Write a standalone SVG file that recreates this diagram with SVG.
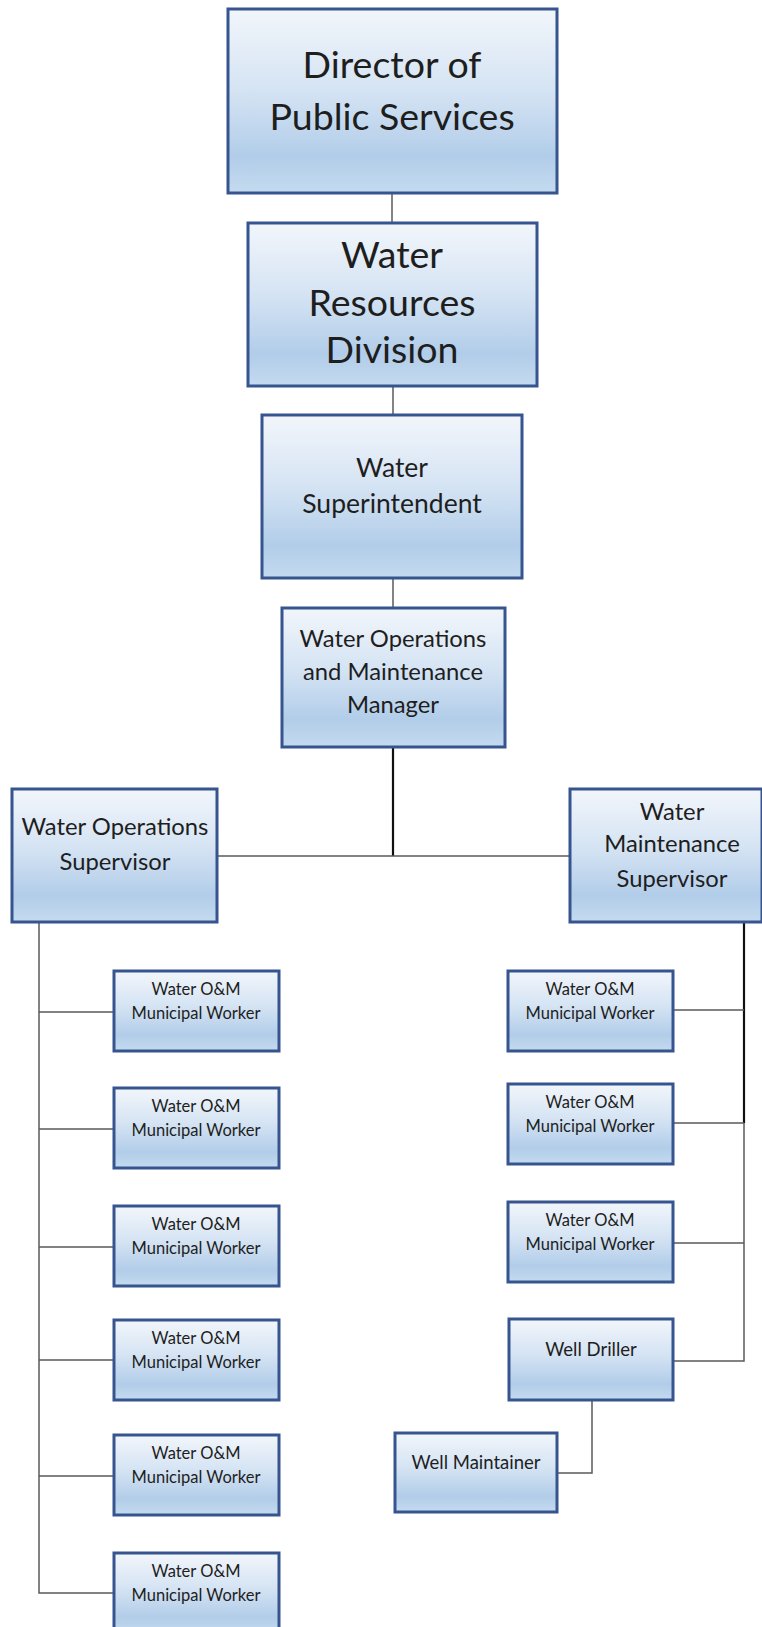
<svg xmlns="http://www.w3.org/2000/svg" width="762" height="1627" viewBox="0 0 762 1627">
<defs>
<linearGradient id="g" x1="0" y1="0" x2="0" y2="1">
<stop offset="0" stop-color="#f2f6fb"/>
<stop offset="0.45" stop-color="#d4e3f3"/>
<stop offset="0.8" stop-color="#b2cde9"/>
<stop offset="1" stop-color="#c4daef"/>
</linearGradient>
</defs>
<style>
.box{fill:url(#g);stroke:#36558f;stroke-width:3}
.t{font-family:Lato,"Liberation Sans",sans-serif;fill:#1e1e1e;text-anchor:middle}
.xl{font-size:37.5px}
.l{font-size:26.5px}
.m{font-size:23.8px}
.s{font-size:16.5px}
.w{font-size:18.5px}
.c{fill:none;stroke:#5a5a5a;stroke-width:1.5}
.k{fill:none;stroke:#111;stroke-width:2.2}
</style>
<g id="connectors">
<path class="c" d="M392 193V223"/>
<path class="c" d="M393 386V415"/>
<path class="c" d="M393 578V608"/>
<path class="k" d="M393 747V856"/>
<path class="c" d="M217 856H570"/>
<path class="c" d="M39 922V1593H114"/>
<path class="c" d="M39 1012H114M39 1129H114M39 1247H114M39 1360H114M39 1476H114"/>
<path class="k" d="M744 922V1123"/>
<path class="c" d="M744 1123V1361H673"/>
<path class="c" d="M673 1010H744M673 1123H744M673 1243H744"/>
<path class="c" d="M592 1400V1473H557"/>
</g>
<g id="director"><rect class="box" x="228" y="9" width="329" height="184"/><text class="t xl" x="392" y="78">Director of</text><text class="t xl" x="392" y="130">Public Services</text></g>
<g id="wrd"><rect class="box" x="248" y="223" width="289" height="163"/><text class="t xl" x="392" y="268">Water</text><text class="t xl" x="392" y="316">Resources</text><text class="t xl" x="392" y="363">Division</text></g>
<g id="supt"><rect class="box" x="262" y="415" width="260" height="163"/><text class="t l" x="392" y="477">Water</text><text class="t l" x="392" y="513">Superintendent</text></g>
<g id="manager"><rect class="box" x="282" y="608" width="223" height="139"/><text class="t m" x="393" y="647">Water Operations</text><text class="t m" x="393" y="680">and Maintenance</text><text class="t m" x="393" y="713">Manager</text></g>
<g id="ops-sup"><rect class="box" x="12" y="789" width="205" height="133"/><text class="t m" x="115" y="835">Water Operations</text><text class="t m" x="115" y="870">Supervisor</text></g>
<g id="maint-sup"><rect class="box" x="570" y="789" width="192" height="133"/><text class="t m" x="672" y="820">Water</text><text class="t m" x="672" y="852">Maintenance</text><text class="t m" x="672" y="887">Supervisor</text></g>
<g id="lw1"><rect class="box" x="114" y="971" width="165" height="80"/><text class="t s" x="196" y="995">Water O&amp;M</text><text class="t s" x="196" y="1019">Municipal Worker</text></g>
<g id="lw2"><rect class="box" x="114" y="1088" width="165" height="80"/><text class="t s" x="196" y="1112">Water O&amp;M</text><text class="t s" x="196" y="1136">Municipal Worker</text></g>
<g id="lw3"><rect class="box" x="114" y="1206" width="165" height="80"/><text class="t s" x="196" y="1230">Water O&amp;M</text><text class="t s" x="196" y="1254">Municipal Worker</text></g>
<g id="lw4"><rect class="box" x="114" y="1320" width="165" height="80"/><text class="t s" x="196" y="1344">Water O&amp;M</text><text class="t s" x="196" y="1368">Municipal Worker</text></g>
<g id="lw5"><rect class="box" x="114" y="1435" width="165" height="80"/><text class="t s" x="196" y="1459">Water O&amp;M</text><text class="t s" x="196" y="1483">Municipal Worker</text></g>
<g id="lw6"><rect class="box" x="114" y="1553" width="165" height="80"/><text class="t s" x="196" y="1577">Water O&amp;M</text><text class="t s" x="196" y="1601">Municipal Worker</text></g>
<g id="rw1"><rect class="box" x="508" y="971" width="165" height="80"/><text class="t s" x="590" y="995">Water O&amp;M</text><text class="t s" x="590" y="1019">Municipal Worker</text></g>
<g id="rw2"><rect class="box" x="508" y="1084" width="165" height="80"/><text class="t s" x="590" y="1108">Water O&amp;M</text><text class="t s" x="590" y="1132">Municipal Worker</text></g>
<g id="rw3"><rect class="box" x="508" y="1202" width="165" height="80"/><text class="t s" x="590" y="1226">Water O&amp;M</text><text class="t s" x="590" y="1250">Municipal Worker</text></g>
<g id="driller"><rect class="box" x="509" y="1319" width="164" height="81"/><text class="t w" x="591" y="1356">Well Driller</text></g>
<g id="maintainer"><rect class="box" x="395" y="1433" width="162" height="79"/><text class="t w" x="476" y="1469">Well Maintainer</text></g>
</svg>
